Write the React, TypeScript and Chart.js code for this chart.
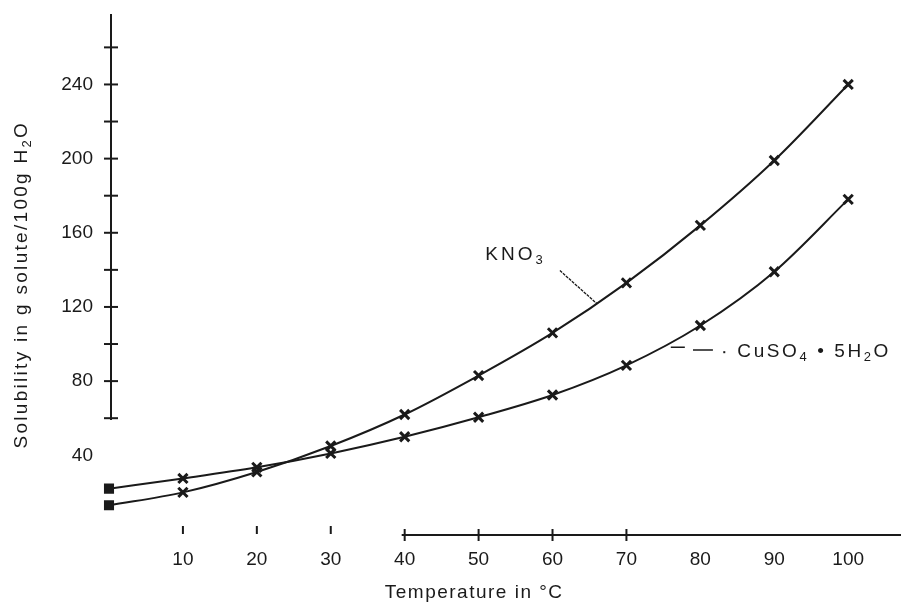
import React, { useEffect, useRef } from 'react';
import { Chart, registerables } from 'chart.js';
Chart.register(...registerables);

const temperatures = [0, 10, 20, 30, 40, 50, 60, 70, 80, 90, 100];
const kno3Values = [13, 20, 31, 45, 62, 83, 106, 133, 164, 199, 240];
const cuso4Values = [22, 27.5, 33.5, 41, 50, 60.5, 72.5, 88.5, 110, 139, 178];
const yTickLabels = [40, 80, 120, 160, 200, 240];
const yMinorTicks = [60, 80, 100, 120, 140, 160, 180, 200, 220, 240, 260];
const xTickLabels = [10, 20, 30, 40, 50, 60, 70, 80, 90, 100];
const xShortTicks = [10, 20, 30];
const xCrossTicks = [40, 50, 60, 70];

const FONT = '"Liberation Sans", Arial, sans-serif';
const INK = '#1a1a1a';

type Seg = { t: string; sub?: boolean };

function drawRich(ctx: any, segs: Seg[], x: number, y: number, size: number, spacing: number) {
  let cx = x;
  segs.forEach((s) => {
    const fs = s.sub ? Math.round(size * 0.7) : size;
    ctx.font = `${fs}px ${FONT}`;
    ctx.letterSpacing = `${spacing}px`;
    ctx.textAlign = 'left';
    ctx.textBaseline = 'middle';
    ctx.fillText(s.t, cx, s.sub ? y + size * 0.3 : y);
    cx += ctx.measureText(s.t).width;
  });
  return cx - x;
}

function richWidth(ctx: any, segs: Seg[], size: number, spacing: number) {
  let w = 0;
  segs.forEach((s) => {
    const fs = s.sub ? Math.round(size * 0.7) : size;
    ctx.font = `${fs}px ${FONT}`;
    ctx.letterSpacing = `${spacing}px`;
    w += ctx.measureText(s.t).width;
  });
  return w;
}

const axesPlugin = {
  id: 'scanAxes',
  afterDraw(chart: any) {
    const ctx = chart.ctx;
    const xs = chart.scales.x;
    const ys = chart.scales.y;
    ctx.save();
    ctx.strokeStyle = INK;
    ctx.fillStyle = INK;
    ctx.lineWidth = 2;
    // y axis
    const ax = xs.getPixelForValue(0) + 2;
    ctx.beginPath();
    ctx.moveTo(ax, ys.getPixelForValue(59));
    ctx.lineTo(ax, ys.top);
    ctx.stroke();
    yMinorTicks.forEach((v) => {
      const y = ys.getPixelForValue(v);
      ctx.beginPath();
      ctx.moveTo(ax - 7, y);
      ctx.lineTo(ax + 7, y);
      ctx.stroke();
    });
    // x axis
    const ay = ys.bottom;
    ctx.beginPath();
    ctx.moveTo(xs.getPixelForValue(40) - 3, ay);
    ctx.lineTo(chart.width - 4, ay);
    ctx.stroke();
    xShortTicks.forEach((v) => {
      const x = xs.getPixelForValue(v);
      ctx.beginPath();
      ctx.moveTo(x, ay - 9);
      ctx.lineTo(x, ay - 1);
      ctx.stroke();
    });
    xCrossTicks.forEach((v) => {
      const x = xs.getPixelForValue(v);
      ctx.beginPath();
      ctx.moveTo(x, ay - 6);
      ctx.lineTo(x, ay + 6);
      ctx.stroke();
    });

    // axis titles
    const xTitle: Seg[] = [{ t: 'Temperature in °C' }];
    const wx = richWidth(ctx, xTitle, 19, 1.5);
    drawRich(ctx, xTitle, xs.getPixelForValue(49.4) - wx / 2, 593, 19, 1.5);

    const yTitle: Seg[] = [{ t: 'Solubility in g solute/100g H' }, { t: '2', sub: true }, { t: 'O' }];
    const wy = richWidth(ctx, yTitle, 19, 2.3);
    ctx.save();
    ctx.translate(22, ys.getPixelForValue(132));
    ctx.rotate(-Math.PI / 2);
    drawRich(ctx, yTitle, -wy / 2, 0, 19, 2.3);
    ctx.restore();

    // annotations
    drawRich(ctx, [{ t: 'KNO' }, { t: '3', sub: true }], xs.getPixelForValue(50.9), 255, 19, 3);
    drawRich(
      ctx,
      [{ t: 'CuSO' }, { t: '4', sub: true }, { t: ' • 5H' }, { t: '2', sub: true }, { t: 'O' }],
      xs.getPixelForValue(85.0),
      352,
      19,
      2.6
    );
    ctx.lineWidth = 1.3;
    ctx.setLineDash([3, 1]);
    ctx.beginPath();
    ctx.moveTo(xs.getPixelForValue(61.0), ys.getPixelForValue(139.6));
    ctx.lineTo(xs.getPixelForValue(66.0), ys.getPixelForValue(121.8));
    ctx.stroke();
    ctx.setLineDash([]);
    ctx.lineWidth = 1.6;
    ctx.beginPath();
    ctx.moveTo(xs.getPixelForValue(76.0), ys.getPixelForValue(98.3));
    ctx.lineTo(xs.getPixelForValue(77.9), ys.getPixelForValue(98.3));
    ctx.moveTo(xs.getPixelForValue(79.0), ys.getPixelForValue(96.8));
    ctx.lineTo(xs.getPixelForValue(81.7), ys.getPixelForValue(96.8));
    ctx.stroke();
    ctx.fillRect(xs.getPixelForValue(83.1), ys.getPixelForValue(95.6) - 1, 2, 2);
    ctx.restore();
  },
};

function pointStyles(n: number) {
  return Array.from({ length: n }, (_, i) => (i === 0 ? 'rect' : 'crossRot'));
}

export default function App() {
  const ref = useRef<HTMLCanvasElement | null>(null);
  useEffect(() => {
    if (!ref.current) return;
    const mk = (vals: number[]) => temperatures.map((t, i) => ({ x: t, y: vals[i] }));
    const common = {
      borderColor: INK,
      backgroundColor: INK,
      pointBorderColor: INK,
      pointBackgroundColor: INK,
      borderWidth: 2,
      pointStyle: pointStyles(temperatures.length),
      pointRadius: temperatures.map((_, i) => (i === 0 ? 5 : 6.5)),
      pointBorderWidth: 3,
      cubicInterpolationMode: 'monotone' as const,
      clip: false as any,
      fill: false,
    };
    const chart = new Chart(ref.current, {
      type: 'line',
      data: {
        datasets: [
          { label: 'KNO3', data: mk(kno3Values), ...common },
          { label: 'CuSO4 • 5H2O', data: mk(cuso4Values), ...common },
        ],
      },
      options: {
        animation: false,
        responsive: false,
        layout: { padding: { top: 14, right: 0, left: 0, bottom: 0 } },
        plugins: { legend: { display: false }, tooltip: { enabled: false } },
        scales: {
          x: {
            type: 'linear',
            min: 0,
            max: 106.4,
            grid: { display: false, drawTicks: false },
            border: { display: false },
            afterBuildTicks: (s: any) => {
              s.ticks = xTickLabels.map((v) => ({ value: v }));
            },
            afterFit: (s: any) => {
              s.height = 72;
              s.paddingLeft = 0;
              s.paddingRight = 0;
              s.paddingTop = 0;
              s.paddingBottom = 0;
            },
            ticks: {
              autoSkip: false,
              maxRotation: 0,
              padding: 13,
              color: INK,
              font: { family: FONT, size: 19 },
              callback: (v: any) => String(v),
            },
          },
          y: {
            type: 'linear',
            min: -3,
            max: 278,
            grid: { display: false, drawTicks: false },
            border: { display: false },
            afterBuildTicks: (s: any) => {
              s.ticks = yTickLabels.map((v) => ({ value: v }));
            },
            afterFit: (s: any) => {
              s.width = 109;
              s.paddingLeft = 0;
              s.paddingRight = 0;
              s.paddingTop = 0;
              s.paddingBottom = 0;
            },
            ticks: {
              autoSkip: false,
              padding: 16,
              color: INK,
              font: { family: FONT, size: 19 },
              callback: (v: any) => String(v),
            },
          },
        },
      },
      plugins: [axesPlugin],
    });
    return () => chart.destroy();
  }, []);
  return (
    <div style={{ position: 'fixed', left: 0, top: 0, width: 905, height: 607, background: '#fff' }}>
      <canvas ref={ref} width={905} height={607} />
    </div>
  );
}
